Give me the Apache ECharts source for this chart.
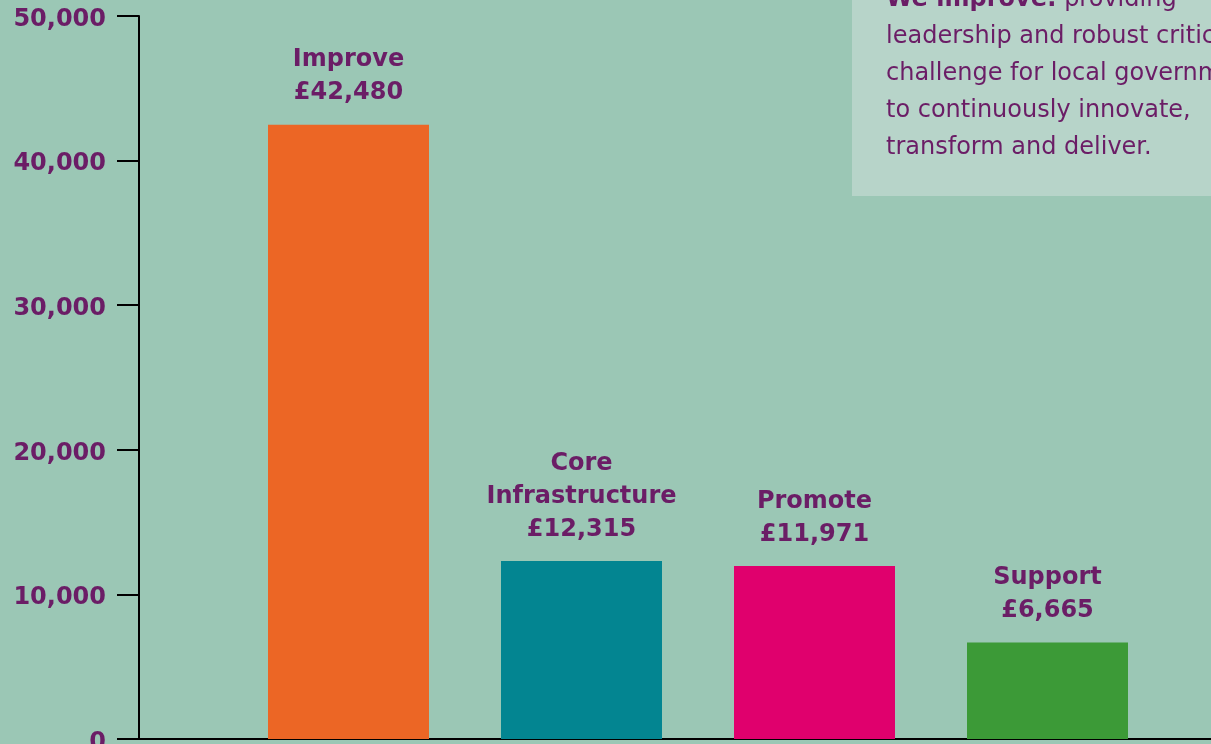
<!DOCTYPE html>
<html>
<head>
<meta charset="utf-8">
<script src="https://cdn.jsdelivr.net/npm/echarts@6/dist/echarts.min.js"></script>
<style>
  html, body { margin: 0; padding: 0; background: #9bc7b5; }
  #chart { width: 1211px; height: 744px; }
</style>
</head>
<body>
<div id="chart"></div>
<script>
const categories = ['Improve', 'Core\nInfrastructure', 'Promote', 'Support'];
const values = [42480, 12315, 11971, 6665];
const barColors = ['#ec6625', '#038591', '#e0006d', '#3c9a37'];
const yTicks = [0, 10000, 20000, 30000, 40000, 50000];
const boxLines = [
  '{b|We improve:} providing',
  'leadership and robust critical',
  'challenge for local government',
  'to continuously innovate,',
  'transform and deliver.'
];

const purple = '#6b1d66';
const chart = echarts.init(document.getElementById('chart'));

chart.setOption({
  backgroundColor: '#9bc7b5',
  animation: false,
  grid: { left: 232, right: 47, top: 16, bottom: 5, containLabel: false, outerBoundsMode: 'none' },
  xAxis: {
    type: 'category',
    data: categories,
    axisLine: { show: false },
    axisTick: { show: false },
    axisLabel: { show: false }
  },
  yAxis: {
    type: 'value',
    min: yTicks[0],
    max: yTicks[yTicks.length - 1],
    interval: yTicks[1] - yTicks[0],
    offset: 93,
    axisLine: { show: true, lineStyle: { color: '#000', width: 2 } },
    axisTick: { show: true, length: 22, lineStyle: { color: '#000', width: 2 } },
    splitLine: { show: false },
    axisLabel: {
      margin: 33,
      verticalAlign: 'top',
      lineHeight: 7,
      color: purple,
      fontFamily: 'DejaVu Sans',
      fontWeight: 'bold',
      fontSize: 24,
      formatter: v => v.toLocaleString('en-GB')
    }
  },
  series: [{
    type: 'bar',
    barWidth: 161,
    z: 3,
    data: values.map((v, i) => ({ value: v, itemStyle: { color: barColors[i] } })),
    label: {
      show: true,
      position: 'top',
      distance: 15,
      color: purple,
      fontFamily: 'DejaVu Sans',
      fontWeight: 'bold',
      fontSize: 24,
      lineHeight: 33,
      align: 'center',
      formatter: p => p.name + '\n£' + p.value.toLocaleString('en-GB')
    }
  }],
  graphic: [
    {
      type: 'line',
      z: 1,
      shape: { x1: 139, y1: 739, x2: 1211, y2: 739 },
      style: { stroke: '#000', lineWidth: 2 }
    },
    {
      type: 'rect',
      z: 1,
      shape: { x: 852, y: -10, width: 400, height: 206 },
      style: { fill: '#b7d4c9' }
    },
    {
      type: 'text',
      z: 2,
      x: 886,
      y: -19,
      style: {
        text: boxLines.join('\n'),
        fill: purple,
        fontFamily: 'DejaVu Sans',
        fontSize: 24,
        lineHeight: 37,
        rich: {
          b: { fontWeight: 'bold', fontFamily: 'DejaVu Sans', fontSize: 24, lineHeight: 37, fill: purple }
        }
      }
    }
  ]
});
</script>
</body>
</html>
